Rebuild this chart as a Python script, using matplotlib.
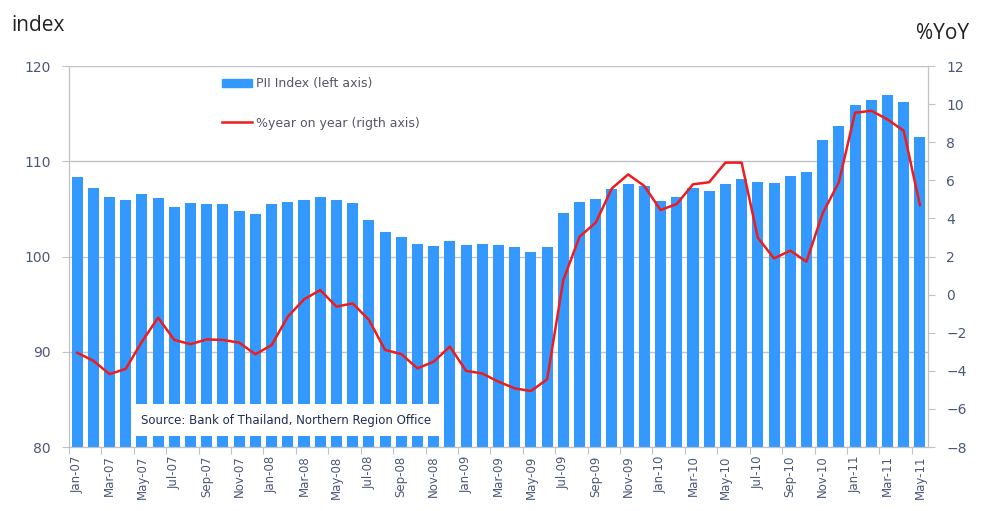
import matplotlib.pyplot as plt
import matplotlib.patches as mpatches
import matplotlib.lines as mlines
import numpy as np

months = ["Jan", "Feb", "Mar", "Apr", "May", "Jun", "Jul", "Aug", "Sep", "Oct", "Nov", "Dec"]
labels = [m + "-" + y for y in ["07", "08", "09", "10", "11"] for m in months][:53]

pii_index = [108.4, 107.2, 106.3, 105.9, 106.6, 106.1, 105.2, 105.6, 105.5, 105.5, 104.8, 104.5,
             105.5, 105.7, 105.9, 106.2, 105.9, 105.6, 103.8, 102.6, 102.1, 101.35, 101.1, 101.6,
             101.25, 101.35, 101.2, 100.95, 100.5, 100.95, 104.6, 105.7, 106.0, 107.05, 107.6, 107.45,
             105.8, 106.2, 107.15, 106.9, 107.6, 108.1, 107.8, 107.7, 108.5, 108.85, 112.2, 113.75,
             115.9, 116.4, 117.0, 116.2, 112.6]
yoy = [-3.05, -3.47, -4.17, -3.9, -2.47, -1.21, -2.38, -2.6, -2.35, -2.38, -2.52, -3.13,
       -2.65, -1.16, -0.25, 0.24, -0.63, -0.46, -1.32, -2.9, -3.12, -3.87, -3.52, -2.73,
       -4.0, -4.14, -4.57, -4.92, -5.06, -4.45, 0.77, 3.04, 3.78, 5.58, 6.31, 5.7,
       4.44, 4.76, 5.79, 5.9, 6.93, 6.93, 2.99, 1.9, 2.31, 1.73, 4.27, 5.9,
       9.55, 9.65, 9.2, 8.6, 4.7]

tick_color = "#4a5878"
grid_color = "#c0c2c8"

fig = plt.figure(figsize=(9.84, 5.11), dpi=100)
ax = fig.add_axes([0.0701, 0.1252, 0.8730, 0.7456])
ax2 = ax.twinx()

x = np.arange(len(labels))
ax.bar(x, [v - 80 for v in pii_index], bottom=80, width=0.68, color="#3399ff", zorder=2)
ax2.plot(x, yoy, color="#ee1c1c", linewidth=1.8, zorder=3)

ax.set_xlim(-0.5, len(labels) - 0.5)
ax.set_ylim(80, 120)
ax.set_yticks([80, 90, 100, 110, 120])
ax2.set_ylim(-8, 12)
ax2.set_yticks(range(-8, 13, 2))

ax.grid(axis="y", color=grid_color, linewidth=1, zorder=0)
ax.set_axisbelow(True)

# tick marks between bar pairs, labels under every other bar
ax.set_xticks(np.arange(-0.5, len(labels), 2), minor=False)
ax.set_xticklabels([])
ax.set_xticks(x[::2], minor=True)
ax.set_xticklabels(labels[::2], minor=True, rotation=90, fontsize=8.5, color=tick_color)
ax.tick_params(axis="x", which="major", length=5, color=grid_color)
ax.tick_params(axis="x", which="minor", length=0, pad=6)
ax.tick_params(axis="y", length=5, color=grid_color, labelsize=10, labelcolor=tick_color, pad=8)
ax2.tick_params(axis="y", length=5, color=grid_color, labelsize=10, labelcolor=tick_color, pad=8)

for a in (ax, ax2):
    a.spines["top"].set_visible(False)
    for s in ("left", "right", "bottom"):
        a.spines[s].set_color(grid_color)

fig.text(0.012, 0.95, "index", fontsize=15, color="#222222", family="Open Sans", va="center")
fig.text(0.985, 0.935, "%YoY", fontsize=15, color="#222222", family="Open Sans", va="center", ha="right")

h1 = mpatches.Patch(color="#3399ff", label="PII Index (left axis)")
h2 = mlines.Line2D([], [], color="#ee1c1c", linewidth=1.8, label="%year on year (rigth axis)")
ax2.legend(handles=[h1, h2], loc="upper left", bbox_to_anchor=(0.165, 1.0), frameon=False,
           fontsize=9, labelcolor="#555566", labelspacing=2.1, handlelength=2.4, handletextpad=0.3)

ax2.text(0.084, 0.07, "Source: Bank of Thailand, Northern Region Office", transform=ax2.transAxes,
         fontsize=8.5, color="#1f2d55", va="center", zorder=5,
         bbox=dict(boxstyle="square,pad=0.8", facecolor="white", edgecolor="none"))

fig.savefig("out.png", dpi=100)
